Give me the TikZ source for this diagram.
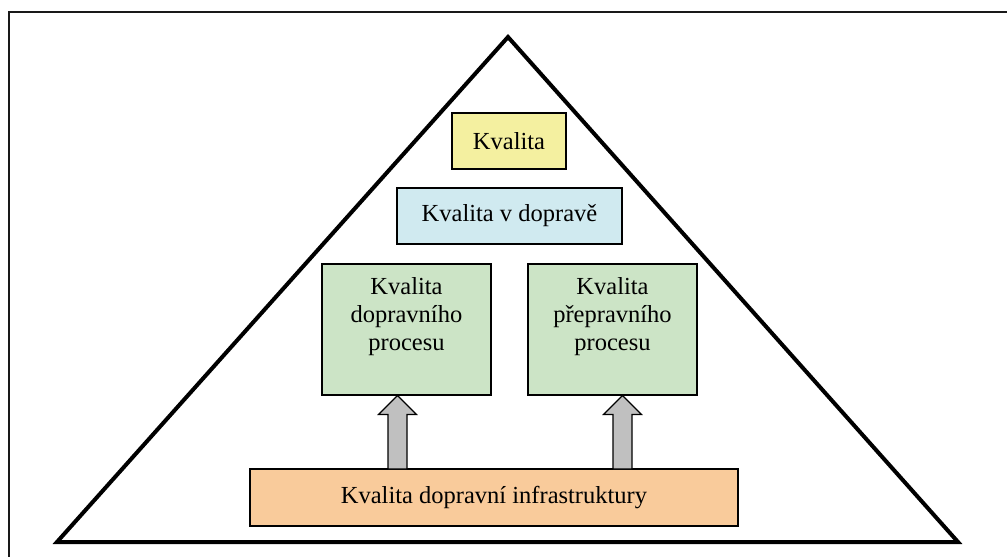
\documentclass[tikz,border=0pt]{standalone}
\usepackage{fontspec}
\setmainfont{Liberation Serif}
\usetikzlibrary{calc}
\definecolor{cyellow}{HTML}{F4F0A0}
\definecolor{cblue}{HTML}{D0EAF0}
\definecolor{cgreen}{HTML}{CCE4C6}
\definecolor{corange}{HTML}{F9CB9B}
\definecolor{cgray}{HTML}{C0C0C0}
\tikzset{
  boxstyle/.style={draw=black, line width=1.5pt, rectangle, inner sep=0pt, align=center,
    font=\fontsize{24.5}{28}\selectfont},
  boxtext/.style={align=center, font=\fontsize{24.5}{28}\selectfont, anchor=north, inner sep=0pt},
  blockarrow/.style={draw=black, line width=1.2pt, fill=cgray, line join=miter},
}
\begin{document}
\begin{tikzpicture}[x=1pt,y=-1pt]
\useasboundingbox (0,0) rectangle (1007,557);
\clip (0,0) rectangle (1007,557);
\draw[line width=2.2pt, draw=black!90] (9,12) rectangle (1020,570);
\coordinate (apex) at (508,37);
\coordinate (bl) at (57,542);
\coordinate (br) at (958,542);
\draw[line width=4pt, line join=miter] (apex) -- (br) -- (bl) -- cycle;

\node[boxstyle, fill=cyellow, minimum width=114, minimum height=56] (kval) at (509,141) {Kvalita};
\node[boxstyle, fill=cblue, minimum width=225, minimum height=56] (kvd) at (509.5,216) {Kvalita v dopravě};
\node[boxstyle, fill=cgreen, minimum width=169, minimum height=131, anchor=north] (dp) at (406.5,263) {};
\node[boxtext] (dpt) at (406.5,277) {Kvalita\\dopravního\\procesu};
\node[boxstyle, fill=cgreen, minimum width=169, minimum height=131, anchor=north] (pp) at (612.5,263) {};
\node[boxtext] (ppt) at (612.5,277) {Kvalita\\přepravního\\procesu};
\node[boxstyle, fill=corange, minimum width=488, minimum height=57] (inf) at (494,497.5) {Kvalita dopravní infrastruktury};

\coordinate (a1) at (397.5,469);
\coordinate (a2) at (622.5,469);
\foreach \c/\t in {a1/dp, a2/pp}{
  \draw[blockarrow] ($(\c)+(-9.5,0)$) -- ($(\c |- \t.south)+(-9.5,19)$) -- ($(\c |- \t.south)+(-19,19)$)
    -- (\c |- \t.south) -- ($(\c |- \t.south)+(19,19)$) -- ($(\c |- \t.south)+(9.5,19)$) -- ($(\c)+(9.5,0)$) -- cycle;
}
\end{tikzpicture}
\end{document}
